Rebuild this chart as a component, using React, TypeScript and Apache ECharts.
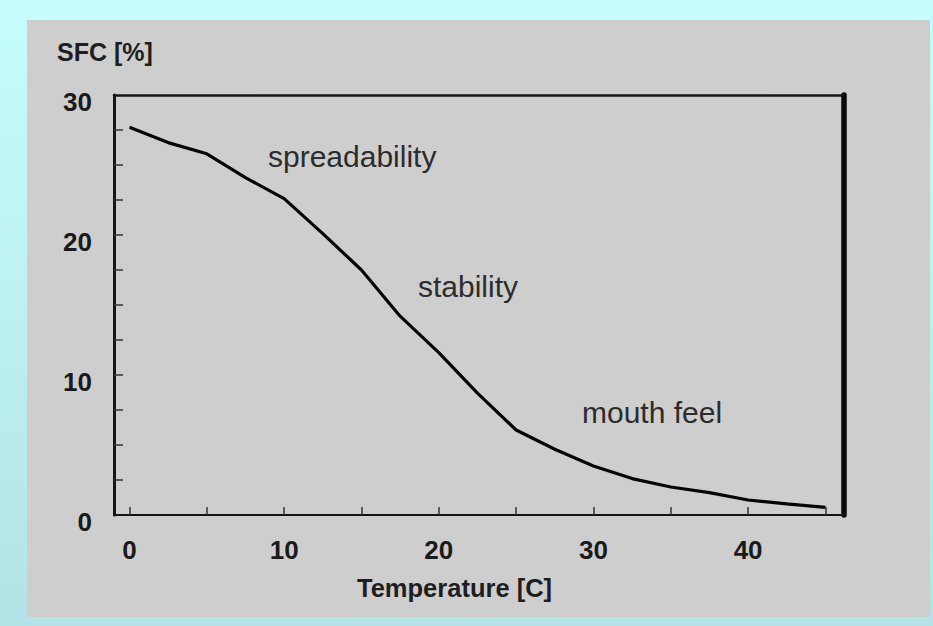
import React, { useEffect, useRef } from "react";
import * as echarts from "echarts";

// Temperature [C] and solid fat content SFC [%]
const temperatures = [0, 2.5, 5, 7.5, 10, 12.5, 15, 17.5, 20, 22.5, 25, 27.5, 30, 32.5, 35, 37.5, 40, 42.5, 45];
const sfcValues = [27.7, 26.6, 25.8, 24.1, 22.6, 20.1, 17.5, 14.2, 11.6, 8.7, 6.07, 4.7, 3.5, 2.6, 2.0, 1.6, 1.07, 0.8, 0.55];

const xTickValues = [0, 5, 10, 15, 20, 25, 30, 35, 40, 45];
const xLabelValues = [0, 10, 20, 30, 40];
const yTickValues = [2.5, 5, 7.5, 10, 12.5, 15, 17.5, 20, 22.5, 25, 27.5];
const yLabelValues = [0, 10, 20, 30];

const annotations = [
  { text: "spreadability", x: 268, y: 156 },
  { text: "stability", x: 418, y: 286 },
  { text: "mouth feel", x: 582, y: 412 },
];

const FONT = "'Liberation Sans', Arial, sans-serif";

export default function App() {
  const ref = useRef<HTMLDivElement>(null);

  useEffect(() => {
    if (!ref.current) return;
    const chart = echarts.init(ref.current, undefined, { renderer: "svg" });
    const data = temperatures.map((t, i) => [t, sfcValues[i]]);

    chart.setOption({
      animation: false,
      backgroundColor: {
        type: "linear",
        x: 0,
        y: 0,
        x2: 0,
        y2: 1,
        colorStops: [
          { offset: 0, color: "#c6fdfe" },
          { offset: 1, color: "#b3e3e7" },
        ],
      },
      graphic: [
        {
          type: "rect",
          z: -10,
          silent: true,
          shape: { x: 27, y: 20, width: 903, height: 597 },
          style: { fill: "#cecece" },
        },
        {
          type: "text",
          x: 57,
          y: 52,
          style: {
            text: "SFC [%]",
            fill: "#1e1e1e",
            font: `bold 25px ${FONT}`,
            verticalAlign: "middle",
          },
        },
        {
          type: "text",
          x: 357,
          y: 588,
          style: {
            text: "Temperature [C]",
            fill: "#1e1e1e",
            font: `bold 25.5px ${FONT}`,
            verticalAlign: "middle",
          },
        },
        ...annotations.map((a) => ({
          type: "text",
          x: a.x,
          y: a.y,
          style: {
            text: a.text,
            fill: "#2c2c2c",
            font: `30px ${FONT}`,
            verticalAlign: "middle",
          },
        })),
      ],
      grid: { left: 114, top: 95, right: 89, bottom: 111, containLabel: false },
      xAxis: [
        {
          type: "value",
          min: -1,
          max: 46.2,
          position: "bottom",
          axisLine: { show: true, onZero: false, lineStyle: { color: "#151515", width: 2 } },
          axisTick: {
            show: true,
            inside: true,
            length: 8,
            customValues: xTickValues,
            lineStyle: { color: "#333", width: 1.5 },
          },
          axisLabel: {
            show: true,
            customValues: xLabelValues,
            margin: 22,
            color: "#1a1a1a",
            fontFamily: FONT,
            fontWeight: "bold",
            fontSize: 26,
          },
          splitLine: { show: false },
        },
        {
          type: "value",
          min: -1,
          max: 46.2,
          position: "top",
          axisLine: { show: true, onZero: false, lineStyle: { color: "#151515", width: 2.5 } },
          axisTick: { show: false },
          axisLabel: { show: false },
          splitLine: { show: false },
        },
      ],
      yAxis: [
        {
          type: "value",
          min: 0,
          max: 30,
          position: "left",
          axisLine: { show: true, onZero: false, lineStyle: { color: "#151515", width: 3 } },
          axisTick: {
            show: true,
            inside: true,
            length: 9,
            customValues: yTickValues,
            lineStyle: { color: "#333", width: 1.5 },
          },
          axisLabel: {
            show: true,
            customValues: yLabelValues,
            margin: 22,
            verticalAlign: "top",
            lineHeight: 14,
            color: "#1a1a1a",
            fontFamily: FONT,
            fontWeight: "bold",
            fontSize: 26,
          },
          splitLine: { show: false },
        },
        {
          type: "value",
          min: 0,
          max: 30,
          position: "right",
          axisLine: { show: true, onZero: false, lineStyle: { color: "#0a0a0a", width: 5.5 } },
          axisTick: { show: false },
          axisLabel: { show: false },
          splitLine: { show: false },
        },
      ],
      series: [
        {
          type: "line",
          data,
          xAxisIndex: 0,
          yAxisIndex: 0,
          symbol: "none",
          smooth: false,
          lineStyle: { color: "#050505", width: 3.2 },
        },
      ],
    });

    return () => chart.dispose();
  }, []);

  return (
    <div
      ref={ref}
      style={{ position: "fixed", left: 0, top: 0, width: 933, height: 626 }}
    />
  );
}
